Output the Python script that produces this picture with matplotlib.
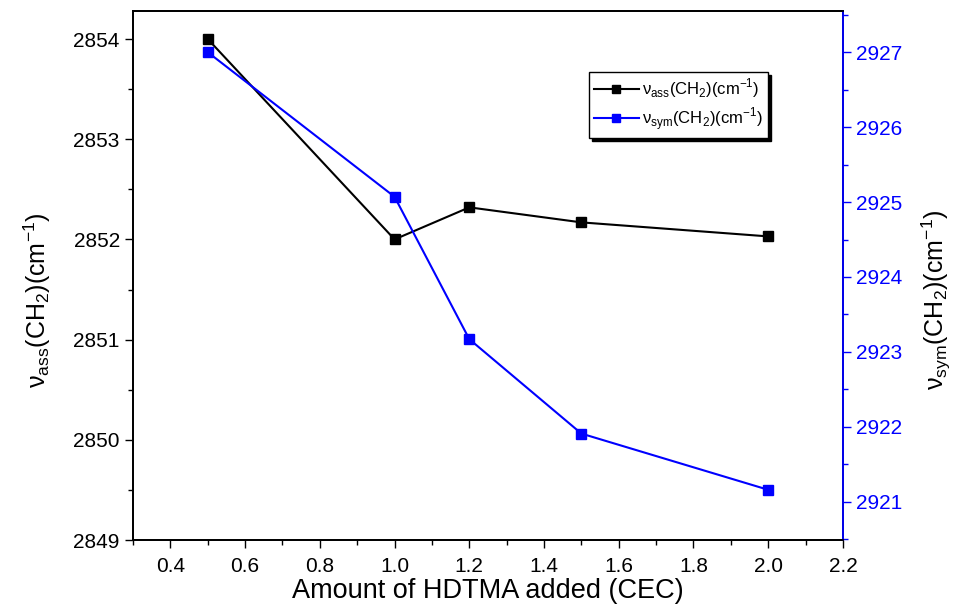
#!/usr/bin/env python3

import numpy as np
import matplotlib
matplotlib.use("Agg")
import matplotlib.pyplot as plt
from matplotlib.ticker import MultipleLocator

plt.rcParams['font.family'] = ['Liberation Sans', 'DejaVu Sans']
plt.rcParams['mathtext.fontset'] = 'custom'
plt.rcParams['mathtext.rm'] = 'Liberation Sans'

# data
hdtma = [0.5, 1.0, 1.2, 1.5, 2.0]
v_ass = [2854.0, 2852.0, 2852.32, 2852.17, 2852.03]
v_sym = [2927.0, 2925.07, 2923.17, 2921.91, 2921.16]

x_ticks = [0.4, 0.6, 0.8, 1.0, 1.2, 1.4, 1.6, 1.8, 2.0, 2.2]
left_ticks = [2849, 2850, 2851, 2852, 2853, 2854]
right_ticks = [2921, 2922, 2923, 2924, 2925, 2926, 2927]

lbl_ass = r'ν$_{\mathregular{ass}}$(CH$_{\mathregular{2}}$)(cm$^{\mathregular{-1}}$)'
lbl_sym = r'ν$_{\mathregular{sym}}$(CH$_{\mathregular{2}}$)(cm$^{\mathregular{-1}}$)'

def main():
    fig = plt.figure(figsize=(9.59, 6.09), dpi=100)
    ax = fig.add_axes([0.1387, 0.1133, 0.879 - 0.1387, 0.982 - 0.1133])
    ax2 = ax.twinx()

    l1, = ax.plot(hdtma, v_ass, color='black', marker='s', markersize=7.5, lw=1.5, label=lbl_ass)
    l2, = ax2.plot(hdtma, v_sym, color='blue', marker='s', markersize=7.5, lw=1.5, label=lbl_sym)

    ax.set_xlim(0.3, 2.2)
    ax.set_ylim(2849, 2854.28)
    ax2.set_ylim(2920.49, 2927.55)

    ax.set_xticks(x_ticks)
    ax.set_xticklabels(['%.1f' % t for t in x_ticks])
    ax.xaxis.set_minor_locator(MultipleLocator(0.1))
    ax.set_yticks(left_ticks)
    ax.yaxis.set_minor_locator(MultipleLocator(0.5))
    ax2.set_yticks(right_ticks)
    ax2.yaxis.set_minor_locator(MultipleLocator(0.5))

    ax.tick_params(which='major', length=6, width=1, labelsize=15, direction='out')
    ax.tick_params(axis='x', which='major', pad=6)
    ax.tick_params(which='minor', length=3.5, width=1, direction='out')
    ax2.tick_params(which='major', length=6, width=1, labelsize=15, colors='blue', direction='out')
    ax2.tick_params(which='minor', length=3.5, width=1, colors='blue', direction='out')

    for s in ax.spines.values():
        s.set_linewidth(1.3)
    for s in ax2.spines.values():
        s.set_linewidth(1.3)
    ax2.spines['right'].set_color('blue')

    ax.set_xlabel('Amount of HDTMA added (CEC)', fontsize=19.5, labelpad=2)
    ax.set_ylabel(lbl_ass, fontsize=18)
    ax2.set_ylabel(lbl_sym, fontsize=18)
    ax.yaxis.set_label_coords(-0.112, 0.454)
    ax2.yaxis.set_label_coords(1.108, 0.454)

    leg = ax.legend(handles=[l1, l2], loc='upper left', bbox_to_anchor=(0.642, 0.885),
                    borderaxespad=0, fontsize=12, frameon=True, fancybox=False,
                    shadow={'color': 'black', 'alpha': 1},
                    edgecolor='black', framealpha=1, handlelength=2.7, borderpad=0.3,
                    labelspacing=0.3, handletextpad=0.2, markerscale=0.8)
    leg.get_frame().set_linewidth(1)

    fig.savefig('out.png', dpi=100)

if __name__ == "__main__":
    main()
